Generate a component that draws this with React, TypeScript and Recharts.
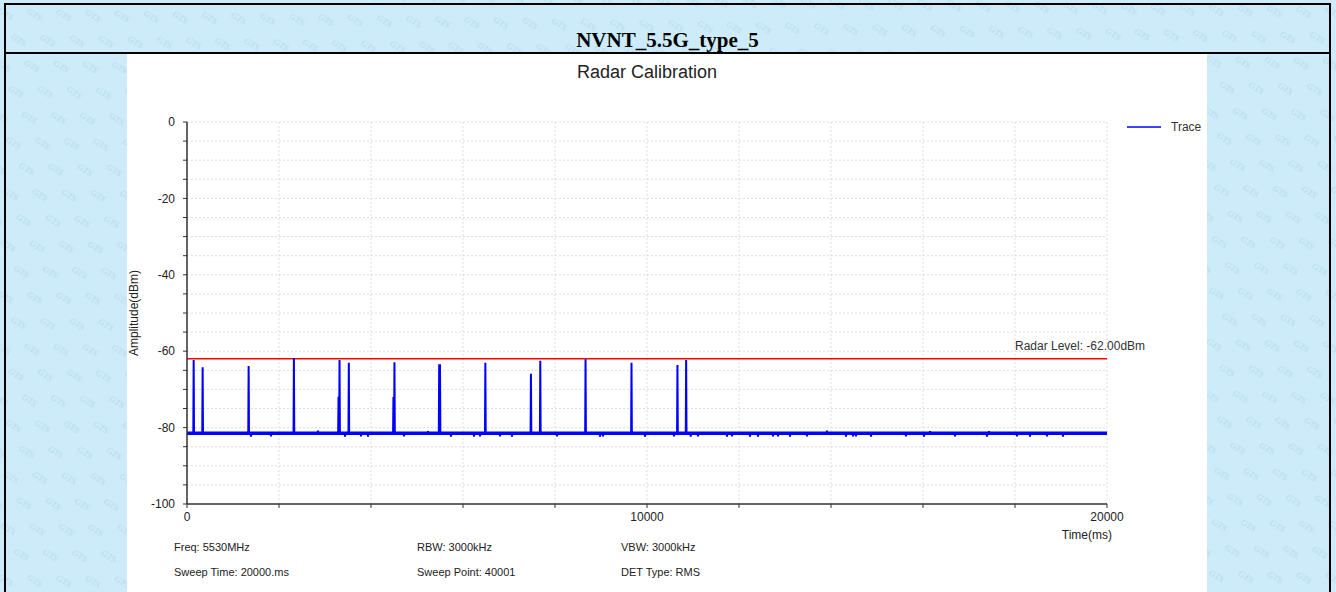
import { LineChart, Line, XAxis, YAxis, CartesianGrid, ReferenceLine, Legend } from "recharts";

// sweep data (time in ms, amplitude in dBm)
const NOISE_FLOOR = -81.5;
const RADAR_LEVEL = -62;

const PULSE_TIMES = [145, 340, 1340, 2324, 3294, 3316, 3518, 4488, 4510, 5482, 5500, 6486, 7477, 7680, 8664, 9663, 10662, 10851];
const PULSE_PEAKS = [-62.3, -64.2, -63.9, -61.8, -71.9, -62.3, -63.0, -72.0, -62.9, -63.4, -63.4, -63.0, -65.9, -62.5, -62.1, -63.0, -63.6, -62.3];

const DIP_TIMES = [1391, 1826, 3435, 3783, 3935, 4717, 5739, 6239, 6370, 6804, 7065, 8043, 8978, 9043, 9957, 10587, 10950, 11109, 11739, 11848, 12239, 12413, 12739, 12848, 13109, 13478, 14326, 14478, 14543, 14870, 15630, 16022, 16696, 17391, 18043, 18326, 18696, 19043];
const DIP_VALUES = [-82.4, -82.3, -82.4, -82.3, -82.4, -82.3, -82.4, -82.4, -82.3, -82.3, -82.4, -82.3, -82.4, -82.3, -82.4, -82.3, -82.4, -82.3, -82.4, -82.3, -82.4, -82.4, -82.3, -82.3, -82.4, -82.3, -82.4, -82.3, -82.3, -82.4, -82.3, -82.4, -82.3, -82.4, -82.3, -82.4, -82.3, -82.4];

const BUMP_TIMES = [2848, 5239, 13913, 16152, 17435];
const BUMP_VALUES = [-80.8, -80.9, -80.8, -80.9, -80.9];

const X_TICKS = [0, 2000, 4000, 6000, 8000, 10000, 12000, 14000, 16000, 18000, 20000];
const X_LABELED = [0, 10000, 20000];
const Y_TICKS = [0, -5, -10, -15, -20, -25, -30, -35, -40, -45, -50, -55, -60, -65, -70, -75, -80, -85, -90, -95, -100];
const Y_LABELED = [0, -20, -40, -60, -80, -100];

const FOOTNOTES = [
  ["Freq: 5530MHz", "RBW: 3000kHz", "VBW: 3000kHz"],
  ["Sweep Time: 20000.ms", "Sweep Point: 40001", "DET Type: RMS"],
];

const events = [
  ...PULSE_TIMES.map((t, i) => ({ t, v: PULSE_PEAKS[i] })),
  ...DIP_TIMES.map((t, i) => ({ t, v: DIP_VALUES[i] })),
  ...BUMP_TIMES.map((t, i) => ({ t, v: BUMP_VALUES[i] })),
].sort((a, b) => a.t - b.t);

const data: { time: number; amp: number }[] = [{ time: 0, amp: NOISE_FLOOR }];
events.forEach((e) => {
  data.push({ time: e.t - 8, amp: NOISE_FLOOR });
  data.push({ time: e.t, amp: e.v });
  data.push({ time: e.t + 8, amp: NOISE_FLOOR });
});
data.push({ time: 20000, amp: NOISE_FLOOR });

const font = "'Liberation Sans', Arial, sans-serif";
const axisColor = "#333";

function RadarLabel(props: any) {
  const vb = props.viewBox || { x: 60, y: 305, width: 920 };
  return (
    <text x={vb.x + vb.width - 92} y={vb.y - 9} fontSize={12} fill="#333" fontFamily={font}>
      Radar Level: -62.00dBm
    </text>
  );
}

function TraceLegend() {
  return (
    <div style={{ display: "flex", alignItems: "center", fontFamily: font, fontSize: 12, color: "#333" }}>
      <svg width={34} height={4}>
        <line x1={0} y1={2} x2={34} y2={2} stroke="#0000ff" strokeWidth={1.5} />
      </svg>
      <span style={{ marginLeft: 10 }}>Trace</span>
    </div>
  );
}

function Watermark() {
  return (
    <svg width={1336} height={592} style={{ position: "absolute", left: 0, top: 0 }}>
      <defs>
        <pattern id="gts" width={50} height={30} patternUnits="userSpaceOnUse" patternTransform="rotate(32)">
          <text x={4} y={12} fontSize={9} fontStyle="italic" fill="#a4c9de" fillOpacity={0.6} fontFamily="serif">GTS</text>
          <text x={29} y={27} fontSize={9} fontStyle="italic" fill="#a4c9de" fillOpacity={0.6} fontFamily="serif">GTS</text>
        </pattern>
      </defs>
      <rect width={1336} height={592} fill="#cdebf9" />
      <rect width={1336} height={592} fill="url(#gts)" />
    </svg>
  );
}

export default function App() {
  return (
    <div style={{ position: "absolute", left: 0, top: 0, width: 1336, height: 592, overflow: "hidden" }}>
      <Watermark />
      {/* table borders */}
      <div style={{ position: "absolute", left: 4, top: 3, width: 1327, height: 2, background: "#000" }} />
      <div style={{ position: "absolute", left: 4, top: 52, width: 1327, height: 2, background: "#000" }} />
      <div style={{ position: "absolute", left: 4, top: 3, width: 2, height: 589, background: "#000" }} />
      <div style={{ position: "absolute", left: 1329, top: 3, width: 2, height: 589, background: "#000" }} />
      <div
        style={{
          position: "absolute", left: 6, top: 28, width: 1323, height: 24, lineHeight: "24px", textAlign: "center",
          fontFamily: "'Liberation Serif', 'Times New Roman', serif", fontWeight: "bold", fontSize: 21, color: "#000",
        }}
      >
        NVNT_5.5G_type_5
      </div>

      <div style={{ position: "absolute", left: 127, top: 54, width: 1080, height: 538, background: "#fff" }}>
        <div style={{ position: "absolute", left: 60, width: 920, top: 8, textAlign: "center", fontFamily: font, fontSize: 18, color: "#222" }}>
          Radar Calibration
        </div>
        <div
          style={{
            position: "absolute", left: 7, top: 259, fontFamily: font, fontSize: 12, color: "#222",
            transform: "translate(-50%, -50%) rotate(-90deg)", whiteSpace: "nowrap",
          }}
        >
          Amplitude(dBm)
        </div>

        <LineChart width={1080} height={538} data={data} margin={{ top: 68, right: 100, bottom: 58, left: 0 }}>
          <CartesianGrid stroke="#dcdcdc" strokeDasharray="2 2" />
          <XAxis
            dataKey="time"
            type="number"
            domain={[0, 20000]}
            ticks={X_TICKS}
            interval={0}
            height={30}
            tickSize={4}
            tickMargin={4}
            tickFormatter={(v: number) => (X_LABELED.includes(v) ? String(v) : "")}
            tick={{ fontSize: 12, fill: "#222", fontFamily: font }}
            axisLine={{ stroke: axisColor, strokeWidth: 1.5 }}
            tickLine={{ stroke: axisColor }}
            label={{ value: "Time(ms)", position: "insideBottomRight", offset: -5, fontSize: 12, fill: "#222", fontFamily: font }}
          />
          <YAxis
            type="number"
            domain={[-100, 0]}
            ticks={Y_TICKS}
            interval={0}
            width={60}
            tickSize={4}
            tickMargin={8}
            tickFormatter={(v: number) => (Y_LABELED.includes(v) ? String(v) : "")}
            tick={{ fontSize: 12, fill: "#222", fontFamily: font }}
            axisLine={{ stroke: axisColor, strokeWidth: 1.5 }}
            tickLine={{ stroke: axisColor }}
          />
          <Legend
            layout="horizontal"
            verticalAlign="middle"
            align="center"
            content={<TraceLegend />}
            wrapperStyle={{ left: 1000, top: 66, width: 80, height: 14 }}
          />
          <ReferenceLine y={NOISE_FLOOR} stroke="#0000ff" strokeWidth={3.5} />
          <ReferenceLine y={RADAR_LEVEL} stroke="#ff0000" strokeWidth={1.5} label={<RadarLabel />} />
          <Line
            type="linear"
            dataKey="amp"
            name="Trace"
            stroke="#0000ff"
            strokeWidth={2}
            dot={false}
            isAnimationActive={false}
          />
        </LineChart>

        {FOOTNOTES.map((row, r) =>
          row.map((txt, c) => (
            <div
              key={`${r}-${c}`}
              style={{
                position: "absolute", left: [47, 290, 494][c], top: 487 + r * 25,
                fontFamily: font, fontSize: 11, color: "#222", whiteSpace: "nowrap",
              }}
            >
              {txt}
            </div>
          ))
        )}
      </div>
    </div>
  );
}
